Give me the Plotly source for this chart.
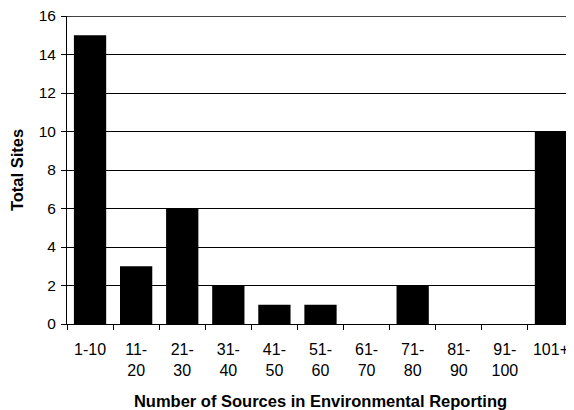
import plotly.graph_objects as go

# Sites grouped by number of sources in environmental reporting
categories = ['1-10', '11-<br>20', '21-<br>30', '31-<br>40', '41-<br>50', '51-<br>60',
              '61-<br>70', '71-<br>80', '81-<br>90', '91-<br>100', '101+']
total_sites = [15, 3, 6, 2, 1, 1, 0, 2, 0, 0, 10]
y_ticks = [0, 2, 4, 6, 8, 10, 12, 14, 16]

fig = go.Figure()

fig.add_trace(go.Bar(
    x=categories,
    y=total_sites,
    marker=dict(color='black', line=dict(width=0)),
    showlegend=False
))

# top gridline at the axis maximum (plotly skips the one on the plot edge)
fig.add_hline(y=y_ticks[-1], line=dict(color='black', width=1.5), layer='above')

# page body adds an 8px offset, so the figure is a bit smaller than the window
fig.update_layout(
    width=566,
    height=402,
    margin=dict(l=59, r=0, t=8, b=86),
    paper_bgcolor='white',
    plot_bgcolor='white',
    bargap=0.3,
    font=dict(family='Arial, Liberation Sans, sans-serif', size=16, color='black'),
    xaxis=dict(
        type='category',
        automargin=False,
        title=dict(text='<b>Number of Sources in Environmental Reporting</b>',
                   font=dict(size=16.5), standoff=23),
        showline=True, linecolor='black', linewidth=1,
        ticks='outside', tickson='boundaries', ticklen=5, tickcolor='black',
        tickfont=dict(size=16), ticklabelstandoff=11,
        ticklabeloverflow='allow',
        showgrid=False,
    ),
    yaxis=dict(
        automargin=False,
        title=dict(text='<b>Total Sites</b>', font=dict(size=16.5), standoff=10),
        range=[0, 16],
        tickvals=y_ticks,
        showline=True, linecolor='black', linewidth=1,
        ticks='outside', ticklen=5, tickcolor='black',
        tickfont=dict(size=15.5), ticklabelstandoff=2,
        ticklabeloverflow='allow',
        showgrid=True, gridcolor='black', gridwidth=1,
        zeroline=False,
    ),
)

fig.write_html("out.html")
